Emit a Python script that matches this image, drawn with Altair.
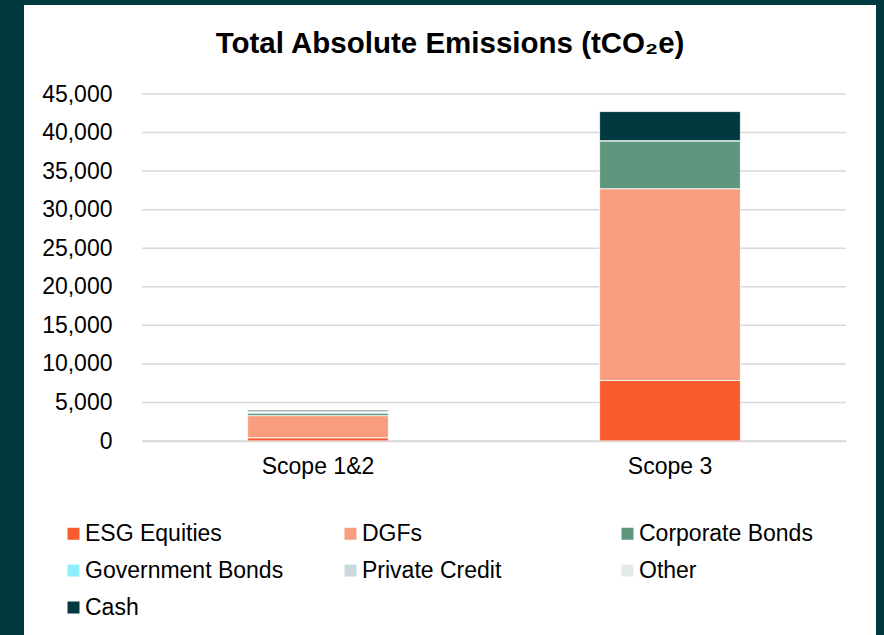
import altair as alt
import pandas as pd

title_text = "Total Absolute Emissions (tCO₂e)"
scopes = ["Scope 1&2", "Scope 3"]
categories = ["ESG Equities", "DGFs", "Corporate Bonds", "Government Bonds",
              "Private Credit", "Other", "Cash"]
colors = ["#F75B2E", "#F99D7F", "#5E977E", "#8EEEFA", "#C9D8D9", "#E3EBE8", "#003A40"]
scope12_values = [420, 2870, 330, 150, 30, 10, 190]
scope3_values = [7850, 24870, 6230, 0, 0, 0, 3770]
y_ticks = [0, 5000, 10000, 15000, 20000, 25000, 30000, 35000, 40000, 45000]

rows = []
for s, vals in zip(scopes, [scope12_values, scope3_values]):
    for i, (c, v) in enumerate(zip(categories, vals)):
        rows.append({"Scope": s, "Category": c, "Value": v, "Order": i})
df = pd.DataFrame(rows)

FONT = "Liberation Sans"
FS = 23
y_scale = alt.Scale(domain=[0, 45000], nice=False)


def y_axis():
    return alt.Axis(title=None, values=y_ticks, format=",d", labelFontSize=FS,
                    labelFont=FONT, labelColor="#000000", ticks=False,
                    labelOverlap=False, labelBound=False,
                    domain=False, grid=False, labelPadding=30, zindex=1)


panel = alt.Chart(pd.DataFrame({"p": [0]})).mark_rect(color="white").encode(
    x=alt.value(-118), x2=alt.value(734), y=alt.value(-89), y2=alt.value(560)
)

grid = alt.Chart(pd.DataFrame({"tick": y_ticks})).mark_rule(
    color="#D9D9D9", strokeWidth=1.5
).encode(y=alt.Y("tick:Q", scale=y_scale, axis=y_axis()))

bars = alt.Chart(df).mark_bar(stroke="white", strokeWidth=0.8).encode(
    x=alt.X("Scope:N", sort=scopes,
            scale=alt.Scale(paddingInner=0.6, paddingOuter=0.3),
            axis=alt.Axis(title=None, labelAngle=0, labelFontSize=FS, labelFont=FONT,
                          labelColor="#000000", ticks=False, domainColor="#D9D9D9",
                          domainWidth=1.5, labelPadding=14, grid=False, zindex=1)),
    y=alt.Y("Value:Q", stack="zero", scale=y_scale, axis=y_axis()),
    color=alt.Color("Category:N",
                    scale=alt.Scale(domain=categories, range=colors),
                    legend=alt.Legend(title=None, orient="none", legendX=-80, legendY=428,
                                      direction="horizontal",
                                      columns=3, gridAlign="all", columnPadding=55,
                                      rowPadding=13, symbolType="square", symbolSize=144,
                                      symbolStrokeWidth=0, labelOffset=0, labelLimit=400,
                                      labelFontSize=FS, labelFont=FONT,
                                      labelColor="#000000", padding=0)),
    order=alt.Order("Order:Q", sort="ascending"),
)

title = alt.Chart(pd.DataFrame({"t": [title_text]})).mark_text(
    font=FONT, fontSize=29.5, fontWeight="bold", color="#000000",
    align="center", baseline="alphabetic"
).encode(text="t:N", x=alt.value(308), y=alt.value(-41))

chart = alt.layer(panel, grid, bars, title).properties(
    width=704, height=347,
    background="#003A40",
    padding={"left": 142, "top": 94, "right": 38, "bottom": 194},
    autosize=alt.AutoSizeParams(type="none"),
).configure_view(strokeWidth=0)

chart.save("out.html", embed_options={"renderer": "svg", "actions": False})
